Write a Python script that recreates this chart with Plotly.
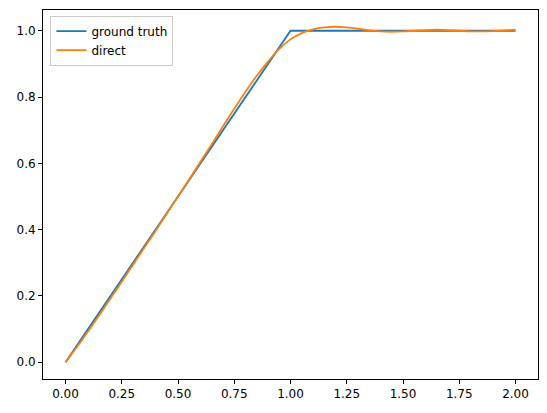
import plotly.graph_objects as go

# Datos
x_truth = [0.0, 1.0, 2.0]
y_truth = [0.0, 1.0, 1.0]

x_direct = [0.00, 0.05, 0.10, 0.15, 0.20, 0.25, 0.30, 0.35, 0.40, 0.45,
            0.50, 0.55, 0.60, 0.65, 0.70, 0.75, 0.80, 0.85, 0.90, 0.95,
            1.00, 1.05, 1.10, 1.15, 1.20, 1.25, 1.30, 1.35, 1.40, 1.45,
            1.50, 1.55, 1.60, 1.65, 1.70, 1.75, 1.80, 1.85, 1.90, 1.95,
            2.00]
y_direct = [0.000, 0.045, 0.093, 0.142, 0.192, 0.243, 0.294, 0.345, 0.396, 0.448,
            0.500, 0.552, 0.605, 0.658, 0.712, 0.765, 0.816, 0.864, 0.907, 0.945,
            0.974, 0.993, 1.004, 1.010, 1.012, 1.010, 1.006, 1.001, 0.998, 0.997,
            0.998, 1.000, 1.002, 1.003, 1.002, 1.000, 0.998, 0.998, 0.999, 1.001,
            1.003]

x_ticks = [0.0, 0.25, 0.5, 0.75, 1.0, 1.25, 1.5, 1.75, 2.0]
x_labels = ['0.00', '0.25', '0.50', '0.75', '1.00', '1.25', '1.50', '1.75', '2.00']
y_ticks = [0.0, 0.2, 0.4, 0.6, 0.8, 1.0]
y_labels = ['0.0', '0.2', '0.4', '0.6', '0.8', '1.0']

fig = go.Figure()
fig.add_trace(go.Scatter(x=x_truth, y=y_truth, mode='lines', name='ground truth',
                         line=dict(color='#1f77b4', width=1.8)))
fig.add_trace(go.Scatter(x=x_direct, y=y_direct, mode='lines', name='direct',
                         line=dict(color='#ff7f0e', width=1.8, shape='spline')))

axis_style = dict(showgrid=False, zeroline=False, showline=True, mirror=True,
                  linecolor='black', linewidth=1, ticks='outside', ticklen=4,
                  tickcolor='black', tickfont=dict(size=12, color='black'),
                  automargin=False)

fig.update_xaxes(range=[-0.1, 2.1], tickvals=x_ticks, ticktext=x_labels, **axis_style)
fig.update_yaxes(range=[-0.0506, 1.0626], tickvals=y_ticks, ticktext=y_labels, **axis_style)

# la página tiene 8px de margen en el body, se compensa aquí
fig.update_layout(
    width=539, height=405,
    margin=dict(l=35, r=9, t=2, b=34),
    plot_bgcolor='white', paper_bgcolor='white',
    font=dict(family='DejaVu Sans', size=12, color='black'),
    legend=dict(x=0.015, y=0.985, xanchor='left', yanchor='top',
                bgcolor='rgba(255,255,255,0.8)', bordercolor='#cccccc', borderwidth=1,
                font=dict(size=12), tracegroupgap=0),
    showlegend=True,
)

fig.write_html("out.html")
